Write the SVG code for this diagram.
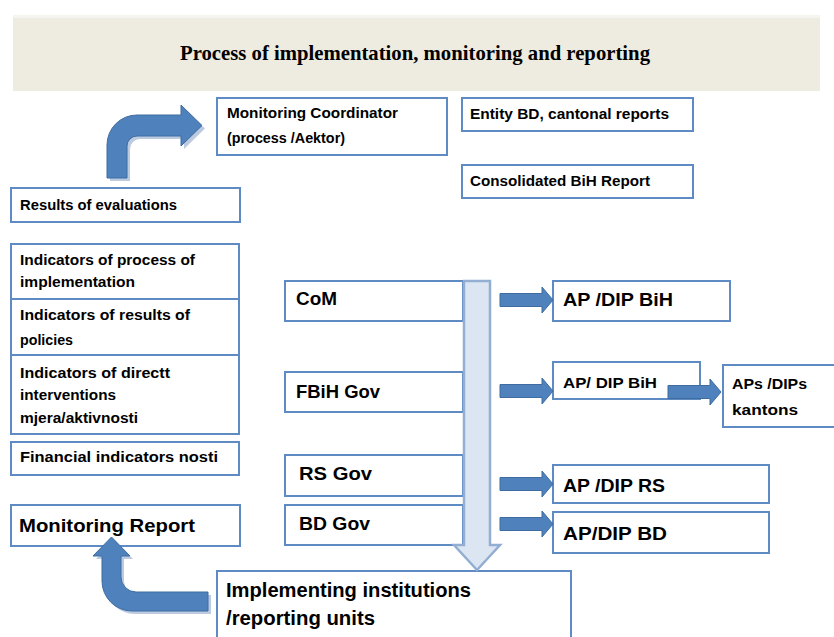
<svg xmlns="http://www.w3.org/2000/svg" width="834" height="637" viewBox="0 0 834 637">
  <style>
    .box { fill: #ffffff; stroke: #5F8BC4; stroke-width: 2; }
    .t { font-family: "Liberation Sans", Arial, sans-serif; font-weight: bold; fill: #000000; }
    .s { font-size: 14px; }
    .m { font-size: 18px; }
    .l { font-size: 20px; }
    .blk { fill: #4F81BD; stroke: #3F6C9F; stroke-width: 1; }
    .blk-shadow { fill: #BCCBE0; }
    .title { font-family: "Liberation Serif", "Times New Roman", serif; font-weight: bold; font-size: 21px; fill: #000000; }
  </style>
  <defs>
    <!-- short block arrow pointing right, origin at tail centre -->
    <path id="sarrow" d="M0,-6.5 H42 V-13 L53,0 L42,13 V6.5 H0 Z"/>
  </defs>

  <rect width="834" height="637" fill="#ffffff"/>

  <!-- heading band -->
  <g id="header">
    <rect x="13" y="15" width="807" height="76" fill="#EEEBE0"/>
    <rect x="13" y="15" width="807" height="3" fill="#F6F4EE"/>
    <text class="title" x="180" y="60" textLength="470" lengthAdjust="spacingAndGlyphs">Process of implementation, monitoring and reporting</text>
  </g>

  <g id="monitoring-coordinator">
    <rect class="box" x="217" y="98" width="230" height="57"/>
    <text class="t s" x="227" y="118" textLength="171" lengthAdjust="spacingAndGlyphs">Monitoring Coordinator</text>
    <text class="t s" x="227" y="143" textLength="118" lengthAdjust="spacingAndGlyphs">(process /Aektor)</text>
  </g>

  <g id="entity-reports">
    <rect class="box" x="462" y="98" width="231" height="33"/>
    <text class="t s" x="470" y="119" textLength="199" lengthAdjust="spacingAndGlyphs">Entity BD, cantonal reports</text>
  </g>

  <g id="consolidated-report">
    <rect class="box" x="462" y="165" width="231" height="33"/>
    <text class="t s" x="470" y="186" textLength="180" lengthAdjust="spacingAndGlyphs">Consolidated BiH Report</text>
  </g>

  <g id="results-evaluations">
    <rect class="box" x="11" y="188" width="229" height="34"/>
    <text class="t s" x="20" y="210" textLength="157" lengthAdjust="spacingAndGlyphs">Results of evaluations</text>
  </g>

  <g id="ind-process">
    <rect class="box" x="11" y="244" width="228" height="55"/>
    <text class="t s" x="20" y="265" textLength="175" lengthAdjust="spacingAndGlyphs">Indicators of process of</text>
    <text class="t s" x="20" y="287" textLength="115" lengthAdjust="spacingAndGlyphs">implementation</text>
  </g>

  <g id="ind-results">
    <rect class="box" x="11" y="299" width="228" height="56"/>
    <text class="t s" x="20" y="320" textLength="170" lengthAdjust="spacingAndGlyphs">Indicators of results of</text>
    <text class="t s" x="20" y="345" textLength="53" lengthAdjust="spacingAndGlyphs">policies</text>
  </g>

  <g id="ind-interventions">
    <rect class="box" x="11" y="355" width="228" height="79"/>
    <text class="t s" x="20" y="378" textLength="150" lengthAdjust="spacingAndGlyphs">Indicators of directt</text>
    <text class="t s" x="20" y="400" textLength="96" lengthAdjust="spacingAndGlyphs">interventions</text>
    <text class="t s" x="20" y="423" textLength="118" lengthAdjust="spacingAndGlyphs">mjera/aktivnosti</text>
  </g>

  <g id="ind-financial">
    <rect class="box" x="11" y="442" width="228" height="33"/>
    <text class="t s" x="20" y="462" textLength="198" lengthAdjust="spacingAndGlyphs">Financial indicators nosti</text>
  </g>

  <g id="monitoring-report">
    <rect class="box" x="11" y="505" width="229" height="41"/>
    <text class="t m" x="19" y="532" textLength="176" lengthAdjust="spacingAndGlyphs">Monitoring Report</text>
  </g>

  <g id="com">
    <rect class="box" x="285" y="281" width="178" height="40"/>
    <text class="t m" x="296" y="305" textLength="41" lengthAdjust="spacingAndGlyphs">CoM</text>
  </g>

  <g id="fbih-gov">
    <rect class="box" x="285" y="372" width="178" height="40"/>
    <text class="t m" x="296" y="398" textLength="84" lengthAdjust="spacingAndGlyphs">FBiH Gov</text>
  </g>

  <g id="rs-gov">
    <rect class="box" x="285" y="455" width="178" height="41"/>
    <text class="t m" x="299" y="480" textLength="73" lengthAdjust="spacingAndGlyphs">RS  Gov</text>
  </g>

  <g id="bd-gov">
    <rect class="box" x="285" y="505" width="178" height="40"/>
    <text class="t m" x="299" y="530" textLength="71" lengthAdjust="spacingAndGlyphs">BD Gov</text>
  </g>

  <g id="ap-bih">
    <rect class="box" x="553" y="281" width="177" height="40"/>
    <text class="t m" x="563" y="306" textLength="110" lengthAdjust="spacingAndGlyphs">AP  /DIP BiH</text>
  </g>

  <g id="ap-fbih">
    <rect class="box" x="553" y="362" width="147" height="37"/>
    <text class="t s" x="563" y="388" textLength="94" lengthAdjust="spacingAndGlyphs">AP/ DIP BiH</text>
  </g>

  <g id="aps-kantons">
    <rect class="box" x="723" y="365" width="113" height="62"/>
    <text class="t s" x="732" y="389" textLength="75" lengthAdjust="spacingAndGlyphs">APs /DIPs</text>
    <text class="t s" x="732" y="415" textLength="66" lengthAdjust="spacingAndGlyphs">kantons</text>
  </g>

  <g id="ap-rs">
    <rect class="box" x="553" y="465" width="216" height="38"/>
    <text class="t m" x="563" y="492" textLength="102" lengthAdjust="spacingAndGlyphs">AP  /DIP RS</text>
  </g>

  <g id="ap-bd">
    <rect class="box" x="553" y="512" width="216" height="41"/>
    <text class="t m" x="563" y="540" textLength="104" lengthAdjust="spacingAndGlyphs">AP/DIP  BD</text>
  </g>

  <g id="implementing-institutions">
    <rect class="box" x="217" y="571" width="354" height="70"/>
    <text class="t l" x="226" y="597" textLength="245" lengthAdjust="spacingAndGlyphs">Implementing institutions</text>
    <text class="t l" x="226" y="625" textLength="149" lengthAdjust="spacingAndGlyphs">/reporting units</text>
  </g>

  <!-- connectors, drawn last so they sit on top of the boxes they touch -->
  <g id="connectors">
    <!-- evaluations up to coordinator -->
    <path class="blk-shadow" d="M110,181 V148 A30,30 0 0 1 140,118 H184 V108 L205,128.5 L184,149 V139 H140 A10,10 0 0 0 130,149 V181 Z"/>
    <path class="blk" d="M107,178 V145 A30,30 0 0 1 137,115 H181 V105 L202,125.5 L181,146 V136 H137 A10,10 0 0 0 127,146 V178 Z"/>
    <!-- implementing institutions back to monitoring report -->
    <path class="blk-shadow" d="M211,595 H139 A15,15 0 0 1 124,580 V559 H133 L114.5,540 L96,559 H105 V584 A30,30 0 0 0 135,614 H211 Z"/>
    <path class="blk" d="M208,592 H136 A15,15 0 0 1 121,577 V556 H130 L111.5,537 L93,556 H102 V581 A30,30 0 0 0 132,611 H208 Z"/>
    <!-- government flow down to implementing institutions -->
    <path d="M464,281 H490 V545 H500 L477,570 L454,545 H464 Z" fill="#DCE6F2" stroke="#93AED3" stroke-width="2.5"/>
    <!-- government to action plans -->
    <use href="#sarrow" class="blk" x="500" y="300"/>
    <use href="#sarrow" class="blk" x="500" y="391"/>
    <use href="#sarrow" class="blk" x="500" y="484"/>
    <use href="#sarrow" class="blk" x="500" y="524"/>
    <!-- FBiH plan feeds the cantonal plans -->
    <use href="#sarrow" class="blk" x="668" y="392"/>
  </g>
</svg>
